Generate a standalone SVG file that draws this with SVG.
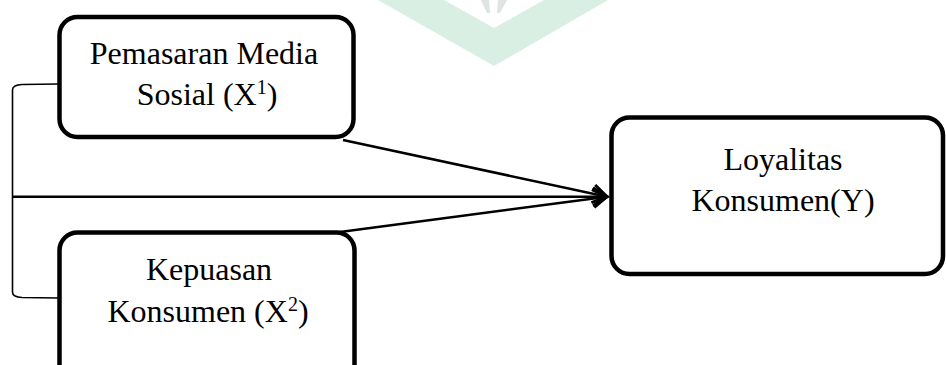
<svg xmlns="http://www.w3.org/2000/svg" width="946" height="365" viewBox="0 0 946 365">
<style>
.box{fill:#fff;stroke:#000;stroke-width:4.5}
.lbl{font-family:"Liberation Serif","Times New Roman",serif;font-size:32px;fill:#000;text-anchor:middle}
.sup{font-size:20px}
.conn{fill:none;stroke:#000;stroke-width:2.5}
.brk{fill:none;stroke:#000;stroke-width:1.6}
</style>
<defs>
<marker id="arr" markerUnits="userSpaceOnUse" viewBox="-18 -12 22 24" refX="0" refY="0" markerWidth="22" markerHeight="24" orient="auto">
<path d="M-14,-9 L0,0 L-14,9" fill="none" stroke="#000" stroke-width="3"/>
</marker>
</defs>
<g id="watermark">
<polygon points="378,0 494,66 608,0 544,0 494,28 444,0" fill="#d9efe3"/>
<polygon points="481,0 489,0 490,13 487,13" fill="#dfe3e2"/>
<polygon points="498,0 507,0 500,13 497,13" fill="#dfe3e2"/>
</g>
<g id="connectors">
<path class="brk" d="M58,84 L22,84.5 Q12.5,85 12.5,90 L12.5,292 Q12.5,297 22,297.5 L58,298"/>
<line class="conn" x1="12.5" y1="196.7" x2="607" y2="196.7" marker-end="url(#arr)"/>
<line class="conn" x1="343" y1="140" x2="607" y2="196.7" marker-end="url(#arr)"/>
<line class="conn" x1="340" y1="232" x2="607" y2="196.7" marker-end="url(#arr)"/>
</g>
<g id="node-x1">
<rect class="box" x="59.5" y="17" width="294" height="120" rx="18"/>
<text class="lbl" x="204" y="64">Pemasaran Media</text>
<text class="lbl" x="207" y="105">Sosial (X<tspan class="sup" dy="-11">1</tspan><tspan dy="11">)</tspan></text>
</g>
<g id="node-x2">
<rect class="box" x="59.5" y="232.5" width="295" height="160" rx="18"/>
<text class="lbl" x="209" y="280">Kepuasan</text>
<text class="lbl" x="208" y="322">Konsumen (X<tspan class="sup" dy="-11">2</tspan><tspan dy="11">)</tspan></text>
</g>
<g id="node-y">
<rect class="box" x="611.5" y="117.5" width="331.5" height="156.5" rx="18"/>
<text class="lbl" x="783" y="170">Loyalitas</text>
<text class="lbl" x="783" y="211">Konsumen(Y)</text>
</g>
</svg>
